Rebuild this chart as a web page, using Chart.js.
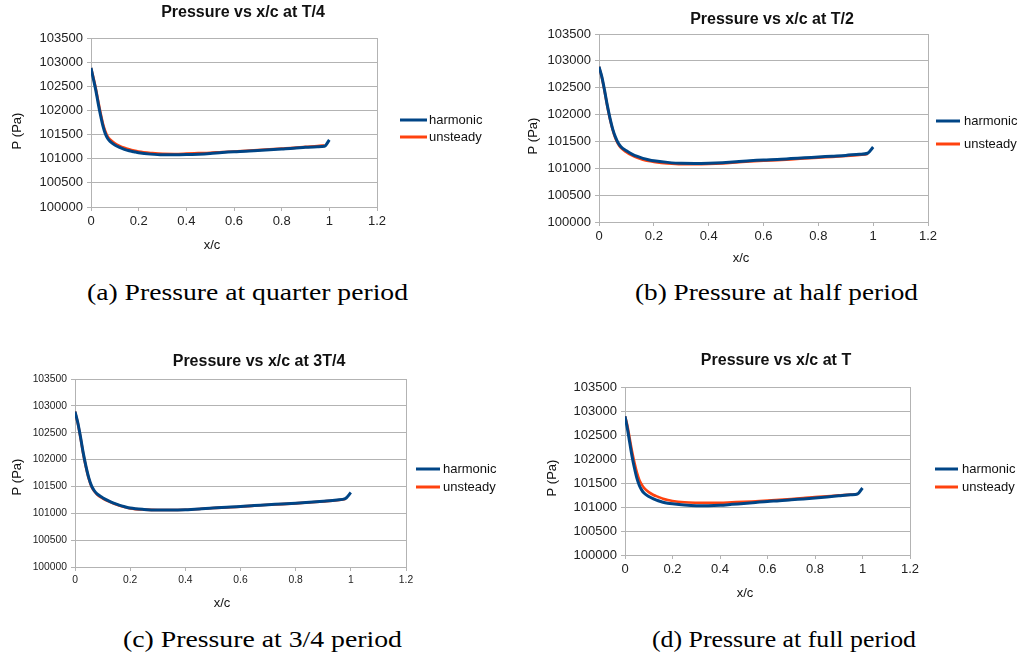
<!DOCTYPE html>
<html><head><meta charset="utf-8">
<script src="https://cdn.jsdelivr.net/npm/chart.js@4.4.1/dist/chart.umd.min.js"></script>
<style>
html,body{margin:0;padding:0;background:#fff;}
body{width:1020px;height:659px;position:relative;overflow:hidden;}
canvas{position:absolute;display:block;}
.cap{position:absolute;font-family:"Liberation Serif","Times New Roman",serif;font-size:23px;line-height:24px;white-space:nowrap;color:#000;transform-origin:0 50%;}
</style></head><body>
<canvas id="ca" width="505" height="265" style="left:0;top:0"></canvas>
<canvas id="cb" width="515" height="270" style="left:505px;top:0"></canvas>
<canvas id="cc" width="505" height="275" style="left:0;top:340px"></canvas>
<canvas id="cd" width="515" height="275" style="left:505px;top:340px"></canvas>
<div class="cap" data-w="321" style="left:87px;top:281px">(a) Pressure at quarter period</div>
<div class="cap" data-w="283" style="left:635px;top:281px">(b) Pressure at half period</div>
<div class="cap" data-w="279" style="left:123px;top:628px">(c) Pressure at 3/4 period</div>
<div class="cap" data-w="264" style="left:652px;top:628px">(d) Pressure at full period</div>
<script>
// ---- data ----
const xc = [0,0.01,0.02,0.03,0.04,0.05,0.06,0.07,0.08,0.1,0.12,0.14,0.16,0.18,0.2,0.25,0.3,0.35,0.4,0.45,0.5,0.55,0.6,0.65,0.7,0.75,0.8,0.85,0.9,0.95,0.98,1.0];
const harmonicA = [102880,102650,102420,102150,101900,101680,101520,101420,101360,101285,101235,101195,101165,101145,101125,101095,101080,101080,101085,101095,101110,101130,101145,101155,101170,101185,101200,101215,101235,101250,101260,101390];
const unsteadyA = [102880,102680,102460,102200,101950,101730,101570,101460,101400,101320,101265,101225,101195,101170,101150,101120,101100,101098,101105,101115,101125,101140,101150,101165,101180,101195,101210,101225,101245,101262,101280,null];
const harmonicB = [102890,102710,102460,102180,101935,101730,101580,101470,101400,101325,101265,101220,101185,101160,101140,101110,101092,101090,101095,101105,101120,101140,101155,101165,101180,101195,101210,101225,101240,101262,101280,101395];
const unsteadyB = [102890,102700,102445,102165,101920,101715,101560,101450,101380,101300,101240,101195,101160,101135,101120,101092,101078,101078,101082,101092,101108,101125,101140,101152,101166,101182,101198,101212,101228,101248,101265,null];
const harmonicC = [102895,102690,102420,102120,101870,101660,101510,101420,101360,101290,101235,101190,101152,101122,101097,101072,101062,101062,101068,101082,101100,101112,101125,101145,101160,101172,101187,101205,101225,101248,101272,101385];
const unsteadyC = [102895,102680,102405,102105,101855,101645,101495,101408,101348,101278,101226,101182,101146,101117,101092,101068,101060,101060,101066,101080,101098,101110,101123,101143,101158,101170,101185,101203,101222,101244,101265,null];
const harmonicD = [102890,102637,102338,102048,101807,101600,101454,101357,101290,101220,101170,101130,101100,101080,101066,101040,101028,101028,101035,101055,101075,101095,101115,101130,101150,101168,101187,101208,101232,101255,101275,101397];
const unsteadyD = [102890,102700,102420,102150,101920,101720,101570,101470,101400,101310,101250,101210,101172,101145,101125,101098,101088,101085,101088,101098,101108,101120,101132,101148,101166,101185,101208,101225,101242,101258,101272,null];
const seriesNames = ['harmonic','unsteady'];
const chartTitles = ['Pressure vs x/c at T/4','Pressure vs x/c at T/2','Pressure vs x/c at 3T/4','Pressure vs x/c at T'];
const xTicks = [0,0.2,0.4,0.6,0.8,1,1.2];
const xTickLabels = ['0','0.2','0.4','0.6','0.8','1','1.2'];
const yTicks = [100000,100500,101000,101500,102000,102500,103000,103500];
const yTickLabels = ['100000','100500','101000','101500','102000','102500','103000','103500'];
const xTitle = 'x/c';
const yTitle = 'P (Pa)';

// ---- styling ----
const GRID = '#b3b3b3';
const COL_H = '#004586';
const COL_U = '#ff420e';
const FONT = '"Liberation Sans", Arial, sans-serif';

const decor = {
  id: 'decor',
  afterDraw(chart, args, o) {
    const c = chart.ctx;
    c.save();
    c.fillStyle = '#111';
    c.textBaseline = 'middle';
    c.textAlign = 'center';
    c.font = 'bold 16px ' + FONT;
    c.fillText(o.title, o.tx, o.ty);
    c.font = '13px ' + FONT;
    c.fillText(xTitle, o.xx, o.xy);
    c.save();
    c.translate(o.yx, o.yy);
    c.rotate(-Math.PI / 2);
    c.fillText(yTitle, 0, 0);
    c.restore();
    c.textAlign = 'left';
    chart.data.datasets.forEach((ds, i) => {
      const y = o.ly[i];
      c.strokeStyle = ds.borderColor;
      c.lineWidth = 3;
      c.beginPath(); c.moveTo(o.lx0, y); c.lineTo(o.lx1, y); c.stroke();
      c.fillText(ds.label, o.ltx, y);
    });
    c.restore();
  }
};

function pts(arr) { return xc.map((x, i) => ({x: x, y: arr[i]})); }

function make(id, off, box, h, u, title, d, tickSize) {
  const cv = document.getElementById(id);
  const W = cv.width, H = cv.height;
  const L = box.l - off[0], R = box.r - off[0], T = box.t - off[1], B = box.b - off[1];
  const rel = (p) => [p[0] - off[0], p[1] - off[1]];
  new Chart(cv, {
    type: 'line',
    data: {
      datasets: [
        {label: seriesNames[0], data: pts(h), borderColor: COL_H, borderWidth: 3, pointRadius: 0, cubicInterpolationMode: 'monotone', fill: false},
        {label: seriesNames[1], data: pts(u), borderColor: COL_U, borderWidth: 2.6, pointRadius: 0, cubicInterpolationMode: 'monotone', fill: false}
      ]
    },
    options: {
      responsive: false,
      animation: false,
      events: [],
      layout: {padding: {left: 0, top: T, right: W - R, bottom: 0}},
      scales: {
        x: {
          type: 'linear', min: 0, max: 1.2,
          afterBuildTicks: (s) => { s.ticks = xTicks.map(v => ({value: v})); },
          afterFit: (s) => { s.height = H - B; },
          ticks: {
            autoSkip: false, maxRotation: 0, padding: 3, color: '#222',
            font: {family: FONT, size: tickSize},
            callback: (v) => xTickLabels[xTicks.indexOf(v)]
          },
          grid: {
            color: (ctx) => (ctx.tick && ctx.tick.value === 1.2) ? GRID : 'rgba(0,0,0,0)',
            tickColor: GRID, tickLength: 4, lineWidth: 1
          },
          border: {display: true, color: GRID, width: 1}
        },
        y: {
          type: 'linear', min: 100000, max: 103500,
          afterBuildTicks: (s) => { s.ticks = yTicks.map(v => ({value: v})); },
          afterFit: (s) => { s.width = L; },
          ticks: {
            autoSkip: false, padding: 4, color: '#222',
            font: {family: FONT, size: tickSize},
            callback: (v) => yTickLabels[yTicks.indexOf(v)]
          },
          grid: {color: GRID, tickColor: GRID, tickLength: 4, lineWidth: 1},
          border: {display: true, color: GRID, width: 1}
        }
      },
      plugins: {
        legend: {display: false},
        title: {display: false},
        tooltip: {enabled: false},
        decor: {
          title: title,
          tx: rel(d.title)[0], ty: rel(d.title)[1],
          xx: rel(d.xt)[0], xy: rel(d.xt)[1],
          yx: rel(d.yt)[0], yy: rel(d.yt)[1],
          lx0: d.lx[0] - off[0], lx1: d.lx[1] - off[0], ltx: d.lx[2] - off[0],
          ly: [d.ly[0] - off[1], d.ly[1] - off[1]]
        }
      }
    },
    plugins: [decor]
  });
}

make('ca', [0, 0], {l: 91, r: 377, t: 38, b: 207}, harmonicA, unsteadyA, chartTitles[0],
  {title: [243, 13], xt: [212, 245], yt: [17, 131], lx: [400, 427, 429], ly: [120, 137]}, 13);
make('cb', [505, 0], {l: 599, r: 928, t: 34, b: 222}, harmonicB, unsteadyB, chartTitles[1],
  {title: [772, 20], xt: [741, 258], yt: [533, 136], lx: [936, 960, 964], ly: [121, 144]}, 13);
make('cc', [0, 340], {l: 75, r: 406, t: 379, b: 567}, harmonicC, unsteadyC, chartTitles[2],
  {title: [259, 362], xt: [222, 603], yt: [17, 477], lx: [416, 440, 443], ly: [469, 487]}, 10.3);
make('cd', [505, 340], {l: 625, r: 910, t: 387, b: 555}, harmonicD, unsteadyD, chartTitles[3],
  {title: [776, 361], xt: [745, 593], yt: [552, 478], lx: [935, 958, 962], ly: [469, 487]}, 13);

document.querySelectorAll('.cap').forEach(el => {
  const w = el.getBoundingClientRect().width;
  el.style.transform = 'scaleX(' + (parseFloat(el.dataset.w) / w) + ')';
});
</script>
</body></html>
